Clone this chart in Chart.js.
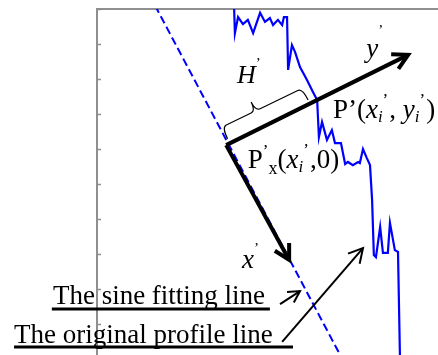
<!DOCTYPE html>
<html>
<head>
<meta charset="utf-8">
<script src="https://cdn.jsdelivr.net/npm/chart.js@4.4.1/dist/chart.umd.min.js"></script>
<style>
    html, body { margin: 0; padding: 0; background: #fff; overflow: hidden; }
    canvas { display: block; }
</style>
</head>
<body>
<canvas id="profileChart" width="517" height="370"></canvas>
<script>
// Original profile line (x: position, y: height)
const profileX = [3.91, 3.94, 4.03, 4.17, 4.31, 4.46, 4.66, 4.80, 4.94, 5.03, 5.17, 5.29, 5.34, 5.43,
    5.46, 5.57, 5.66, 5.80, 6.00, 6.17, 6.29, 6.34, 6.43, 6.57, 6.71, 6.80, 6.97, 7.09, 7.17, 7.31,
    7.46, 7.51, 7.60, 7.71, 7.80, 7.86, 7.91, 7.97, 8.09, 8.17, 8.31, 8.37, 8.51, 8.60, 8.66];
const profileY = [10.26, 9.31, 9.77, 9.57, 9.69, 9.31, 9.89, 9.63, 9.74, 9.54, 9.69, 9.54, 9.77, 9.77,
    8.26, 8.97, 8.77, 8.34, 7.97, 7.63, 7.40, 6.34, 6.77, 6.26, 6.54, 6.17, 6.17, 5.57, 5.63, 5.54,
    5.63, 5.60, 6.00, 5.74, 5.54, 4.54, 2.97, 2.91, 3.77, 3.03, 3.03, 3.89, 3.11, 3.06, -0.17];

// Sine fitting line (straight over this window)
const fitX = [1.50, 7.22];
const fitY = [10.40, -0.40];

// Left axis tick marks (no labels)
const yTicks = [0, 1, 2, 3, 4, 5, 6, 7, 8, 9, 10];

const AXIS_GRAY = '#8f8f8f';
const BLUE = '#0000ff';
const SERIF = '"Liberation Serif", "Times New Roman", serif';

function toPoints(xs, ys) {
    return xs.map((x, i) => ({ x: x, y: ys[i] }));
}

// Draw a line with an open chevron head at "to"
function arrow(ctx, from, to, width, head) {
    const a = Math.atan2(to[1] - from[1], to[0] - from[0]);
    ctx.lineWidth = width;
    ctx.lineCap = 'butt';
    ctx.lineJoin = 'miter';
    ctx.beginPath();
    ctx.moveTo(from[0], from[1]);
    ctx.lineTo(to[0], to[1]);
    ctx.stroke();
    ctx.beginPath();
    ctx.moveTo(to[0] - head * Math.cos(a - 0.5), to[1] - head * Math.sin(a - 0.5));
    ctx.lineTo(to[0], to[1]);
    ctx.lineTo(to[0] - head * Math.cos(a + 0.5), to[1] - head * Math.sin(a + 0.5));
    ctx.stroke();
}

// Text with italic / sub / superscript pieces
function richText(ctx, x, y, parts) {
    parts.forEach(p => {
        ctx.font = (p.i ? 'italic ' : '') + p.s + 'px ' + SERIF;
        ctx.fillText(p.t, x, y + (p.dy || 0));
        x += ctx.measureText(p.t).width + (p.gap || 0);
    });
    return x;
}

// Curly brace between a and b (on a line), bulging along normal n
function brace(ctx, a, b, n, tipT, h, tipH) {
    const dx = b[0] - a[0], dy = b[1] - a[1];
    const len = Math.hypot(dx, dy);
    const d = [dx / len, dy / len];
    const r = 5;
    const m = [a[0] + dx * tipT, a[1] + dy * tipT];
    const off = (p, s, k) => [p[0] + d[0] * s + n[0] * k, p[1] + d[1] * s + n[1] * k];
    ctx.lineWidth = 1.2;
    ctx.beginPath();
    ctx.moveTo(a[0], a[1]);
    let c = off(a, 0, h), e = off(a, r, h);
    ctx.quadraticCurveTo(c[0], c[1], e[0], e[1]);
    e = off(m, -r, h);
    ctx.lineTo(e[0], e[1]);
    c = off(m, 0, h); e = off(m, 0, h + tipH);
    ctx.quadraticCurveTo(c[0], c[1], e[0], e[1]);
    e = off(m, r, h);
    ctx.quadraticCurveTo(c[0], c[1], e[0], e[1]);
    e = off(b, -r, h);
    ctx.lineTo(e[0], e[1]);
    c = off(b, 0, h);
    ctx.quadraticCurveTo(c[0], c[1], b[0], b[1]);
    ctx.stroke();
}

// Inward tick marks on the left axis
const innerTicks = {
    id: 'innerTicks',
    afterDraw(chart) {
        const ctx = chart.ctx;
        const ys = chart.scales.y;
        const left = chart.chartArea.left;
        ctx.save();
        ctx.strokeStyle = AXIS_GRAY;
        ctx.lineWidth = 1.5;
        ys.ticks.forEach(t => {
            const py = Math.round(ys.getPixelForValue(t.value)) + 0.5;
            ctx.beginPath();
            ctx.moveTo(left, py);
            ctx.lineTo(left + 4, py);
            ctx.stroke();
        });
        ctx.restore();
    }
};

// Arrows, brace and labels, placed in data units
const sketchNotes = {
    id: 'sketchNotes',
    afterDraw(chart) {
        const ctx = chart.ctx;
        const xs = chart.scales.x, ys = chart.scales.y;
        const P = (x, y) => [xs.getPixelForValue(x), ys.getPixelForValue(y)];

        ctx.save();
        ctx.strokeStyle = '#000';
        ctx.fillStyle = '#000';
        ctx.textBaseline = 'alphabetic';

        const origin = P(3.69, 6.11);
        const yTip = P(8.89, 8.69);
        const xTip = P(5.49, 2.83);

        // y' and x' axes
        arrow(ctx, origin, yTip, 4, 17);
        arrow(ctx, origin, xTip, 4, 17);

        // H' brace along the y' axis
        const vx = yTip[0] - origin[0], vy = yTip[1] - origin[1];
        const vl = Math.hypot(vx, vy);
        const n = [vy / vl, -vx / vl];
        const along = (t, k) => [origin[0] + vx * t + n[0] * k, origin[1] + vy * t + n[1] * k];
        brace(ctx, along(0.02, 5), along(0.46, 4), n, 0.42, 13, 10);

        // Labels
        let p = P(4.0, 7.89);
        richText(ctx, p[0], p[1], [{ t: 'H', s: 26, i: 1 }, { t: '’', s: 15, dy: -15 }]);
        p = P(7.69, 8.63);
        richText(ctx, p[0], p[1], [{ t: 'y', s: 27, i: 1 }, { t: '’', s: 15, dy: -22 }]);
        p = P(4.14, 2.60);
        richText(ctx, p[0], p[1], [{ t: 'x', s: 27, i: 1 }, { t: '’', s: 15, dy: -15 }]);
        p = P(6.74, 6.89);
        richText(ctx, p[0], p[1], [
            { t: 'P’(', s: 27 }, { t: 'x', s: 27, i: 1 }, { t: 'i', s: 17, i: 1, dy: 4 },
            { t: '’', s: 17, dy: -13, gap: 1 }, { t: ', ', s: 27 }, { t: 'y', s: 27, i: 1 },
            { t: 'i', s: 17, i: 1, dy: 4 }, { t: '’', s: 17, dy: -13, gap: 1 }, { t: ')', s: 27 }
        ]);
        p = P(4.31, 5.46);
        richText(ctx, p[0], p[1], [
            { t: 'P', s: 27 }, { t: '’', s: 17, dy: -12 }, { t: 'x', s: 18, dy: 6 },
            { t: '(', s: 27 }, { t: 'x', s: 27, i: 1 }, { t: 'i', s: 17, i: 1, dy: 4 },
            { t: '’', s: 17, dy: -13, gap: 1 }, { t: ',0)', s: 27 }
        ]);

        // Legend-like pointers
        ctx.font = '27px ' + SERIF;
        p = P(-1.26, 1.57);
        ctx.fillText('The sine fitting line', p[0], p[1]);
        p = P(-2.37, 0.46);
        ctx.fillText('The original profile line', p[0], p[1]);

        ctx.lineWidth = 3;
        let u1 = P(-1.29, 1.43), u2 = P(4.94, 1.43);
        ctx.beginPath(); ctx.moveTo(u1[0], u1[1]); ctx.lineTo(u2[0], u2[1]); ctx.stroke();
        u1 = P(-2.37, 0.34); u2 = P(5.60, 0.34);
        ctx.beginPath(); ctx.moveTo(u1[0], u1[1]); ctx.lineTo(u2[0], u2[1]); ctx.stroke();

        arrow(ctx, P(5.23, 1.57), P(5.80, 1.94), 2, 13);
        arrow(ctx, P(5.29, 0.49), P(7.60, 3.17), 2, 16);

        ctx.restore();
    }
};

const profileChart = document.querySelector('#profileChart');

new Chart(profileChart.getContext('2d'), {
    type: 'line',
    data: {
        datasets: [{
            label: 'The original profile line',
            data: toPoints(profileX, profileY),
            borderColor: BLUE,
            borderWidth: 2.2,
            pointRadius: 0,
            tension: 0,
            fill: false,
            clip: 0
        }, {
            label: 'The sine fitting line',
            data: toPoints(fitX, fitY),
            borderColor: BLUE,
            borderWidth: 2,
            borderDash: [8, 4],
            pointRadius: 0,
            fill: false,
            clip: 0
        }]
    },
    options: {
        responsive: false,
        animation: false,
        events: [],
        layout: {
            padding: { left: 97, top: 9, right: 0, bottom: 11 }
        },
        scales: {
            x: {
                type: 'linear',
                min: 0,
                max: 12,
                display: false
            },
            xTop: {
                type: 'linear',
                axis: 'x',
                position: 'top',
                min: 0,
                max: 12,
                ticks: { display: false },
                grid: { drawOnChartArea: false, drawTicks: false },
                border: { color: AXIS_GRAY, width: 2 },
                afterFit: function(scale) { scale.height = 0; }
            },
            y: {
                type: 'linear',
                min: 0,
                max: 10,
                afterBuildTicks: function(scale) {
                    scale.ticks = yTicks.map(v => ({ value: v }));
                },
                ticks: { display: false },
                grid: { drawOnChartArea: false, drawTicks: false },
                border: { color: AXIS_GRAY, width: 2 },
                afterFit: function(scale) { scale.width = 0; }
            }
        },
        plugins: {
            legend: { display: false },
            tooltip: { enabled: false }
        }
    },
    plugins: [innerTicks, sketchNotes]
});
</script>
</body>
</html>
